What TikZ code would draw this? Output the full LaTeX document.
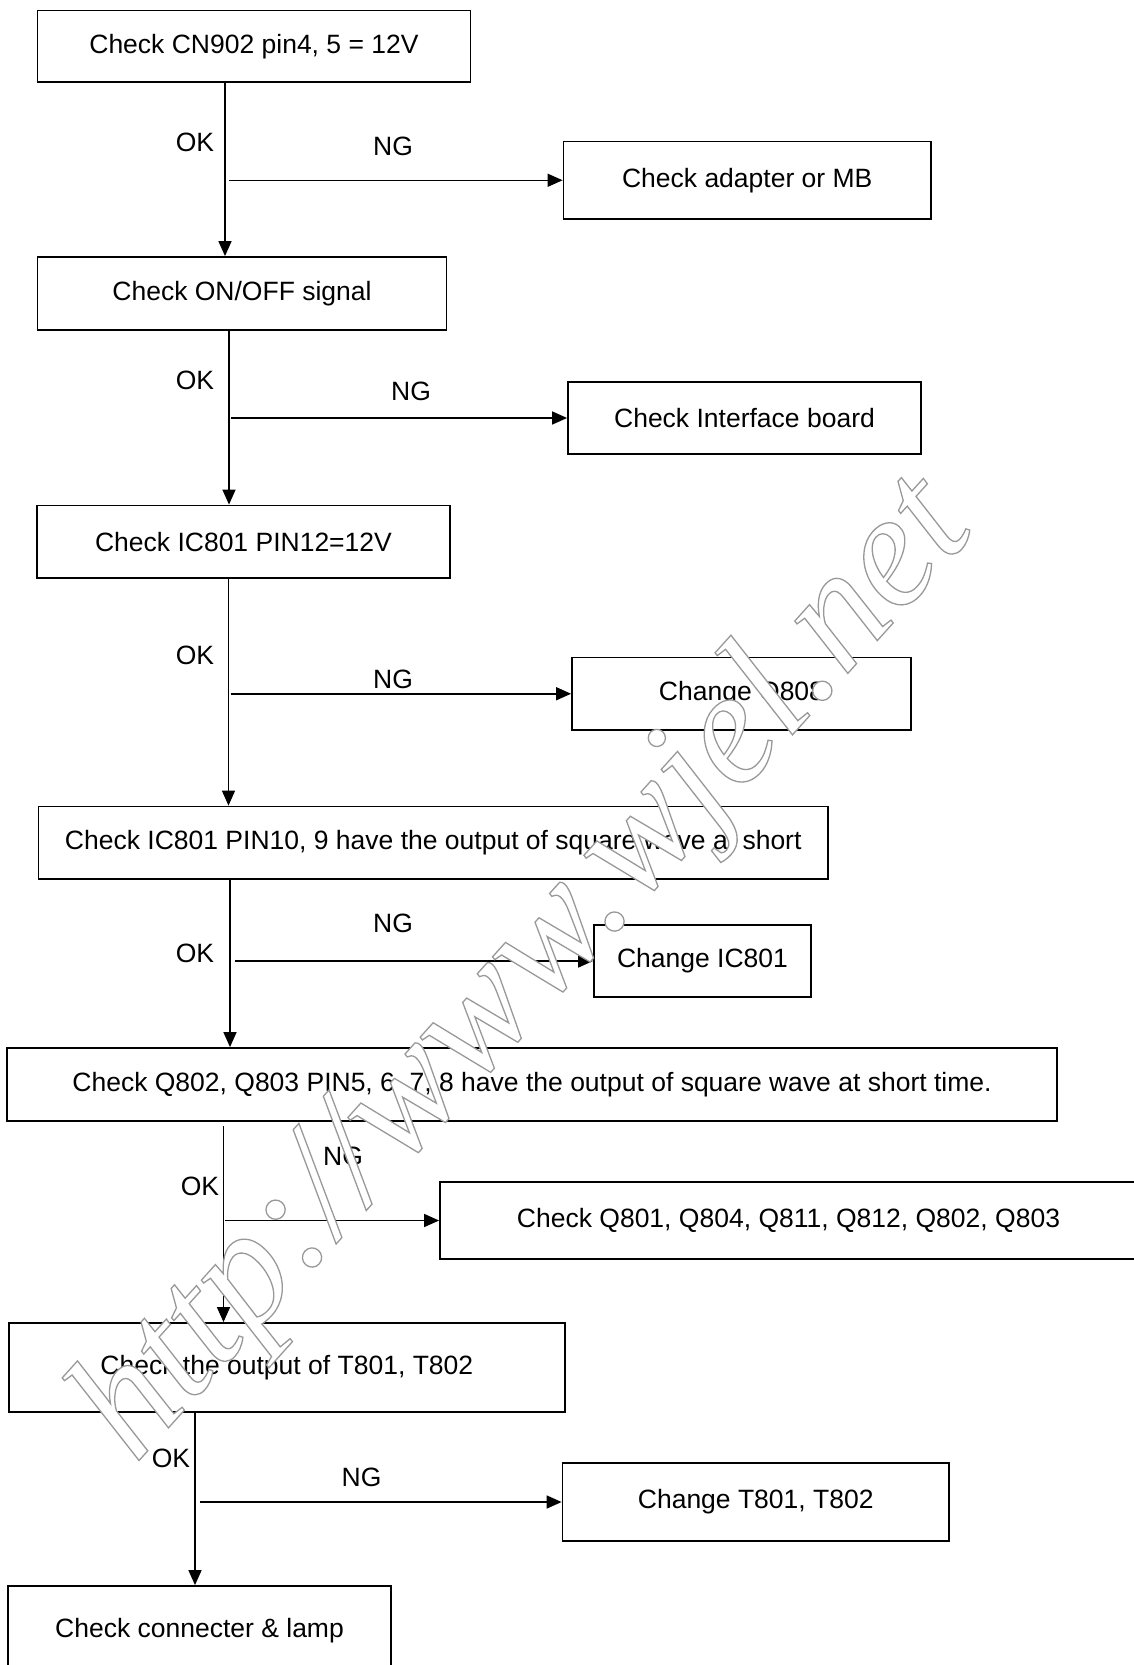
\documentclass[tikz,border=0pt]{standalone}
\usepackage{fontspec}
\setmainfont{Liberation Sans}
\newfontfamily\wmfont{Liberation Serif}
\usetikzlibrary{arrows.meta}
\begin{document}
\begin{tikzpicture}[x=1pt,y=-1pt,
  box/.style={draw, line width=1.8pt, inner sep=0pt, font=\fontsize{26.5}{30}\selectfont},
  lbl/.style={font=\fontsize{26.5}{30}\selectfont, inner sep=0pt},
  arr/.style={line width=1.5pt, -{Triangle[length=15pt,width=13pt]}}]
\useasboundingbox (0,0) rectangle (1134,1665);
% main boxes
\node[box, minimum width=433pt, minimum height=71.5pt] (b1) at (254,46.25) {Check CN902 pin4, 5 = 12V};
\node[box, minimum width=409pt, minimum height=73pt] (b2) at (242,293.5) {Check ON/OFF signal};
\node[box, minimum width=413pt, minimum height=72.5pt] (b3) at (243.5,541.75) {Check IC801 PIN12=12V};
\node[box, minimum width=789.5pt, minimum height=72.5pt] (b4) at (433.25,842.75) {Check IC801 PIN10, 9 have the output of square wave at short};
\node[box, minimum width=1050pt, minimum height=73pt] (b5) at (532,1084.5) {Check Q802, Q803 PIN5, 6, 7, 8 have the output of square wave at short time.};
\node[box, minimum width=556.3pt, minimum height=89pt] (b6) at (286.85,1367.5) {Check the output of T801, T802};
\node[box, minimum width=383pt, minimum height=89pt] (b7) at (199.5,1630.5) {Check connecter \& lamp};
% NG boxes
\node[box, minimum width=367.5pt, minimum height=77.5pt] (a1) at (747.25,180.25) {Check adapter or MB};
\node[box, minimum width=353pt, minimum height=72pt] (a2) at (744.5,418) {Check Interface board};
\node[box, minimum width=339pt, minimum height=72.5pt] (a3) at (741.5,693.75) {Change Q808};
\node[box, minimum width=217pt, minimum height=72pt] (a4) at (702.5,961) {Change IC801};
\node[box, minimum width=697pt, minimum height=77pt] (a5) at (788.5,1220.5) {Check Q801, Q804, Q811, Q812, Q802, Q803};
\node[box, minimum width=386.5pt, minimum height=78pt] (a6) at (755.75,1502) {Change T801, T802};
% vertical line positions
\coordinate (v1) at (225,0);
\coordinate (v2) at (229,0);
\coordinate (v3) at (228.5,0);
\coordinate (v4) at (230,0);
\coordinate (v5) at (223.5,0);
\coordinate (v6) at (195,0);
\draw[arr] (b1.south -| v1) -- (b2.north -| v1);
\draw[arr] (b2.south -| v2) -- (b3.north -| v2);
\draw[arr] (b3.south -| v3) -- (b4.north -| v3);
\draw[arr] (b4.south -| v4) -- (b5.north -| v4);
\draw[arr] ([yshift=-4pt]b5.south -| v5) -- (b6.north -| v5);
\draw[arr] (b6.south -| v6) -- (b7.north -| v6);
% NG branch starts
\coordinate (n1) at (229,180.25);
\coordinate (n2) at (231,418);
\coordinate (n3) at (231,693.75);
\coordinate (n4) at (235,961);
\coordinate (n5) at (225,1220.5);
\coordinate (n6) at (200,1502);
\draw[arr] (n1) -- (n1 -| a1.west);
\draw[arr] (n2) -- (n2 -| a2.west);
\draw[arr] (n3) -- (n3 -| a3.west);
\draw[arr] (n4) -- (n4 -| a4.west);
\draw[arr] (n5) -- (n5 -| a5.west);
\draw[arr] (n6) -- (n6 -| a6.west);
% labels
\node[lbl] (ok1) at (195,142) {OK};
\node[lbl] (ng1) at (393,146) {NG};
\node[lbl] (ok2) at (195,380) {OK};
\node[lbl] (ng2) at (411,391) {NG};
\node[lbl] (ok3) at (195,655) {OK};
\node[lbl] (ng3) at (393,679) {NG};
\node[lbl] (ok4) at (195,953) {OK};
\node[lbl] (ng4) at (393,923) {NG};
\node[lbl] (ok5) at (200,1186) {OK};
\node[lbl] (ng5) at (343,1156) {NG};
\node[lbl] (ok6) at (171,1458) {OK};
\node[lbl] (ng6) at (361.5,1477) {NG};
% watermark
\node[inner sep=0pt, anchor=base west, rotate=48] (wm) at (135,1465)
  {\wmfont\itshape\fontsize{162}{170}\selectfont\special{pdf:literal direct 2 Tr 1 1 1 rg 0.6 0.6 0.6 RG 1.3 w}http://www.wjel.net\special{pdf:literal direct 0 Tr 0 0 0 rg 0 0 0 RG}};
\end{tikzpicture}
\end{document}
